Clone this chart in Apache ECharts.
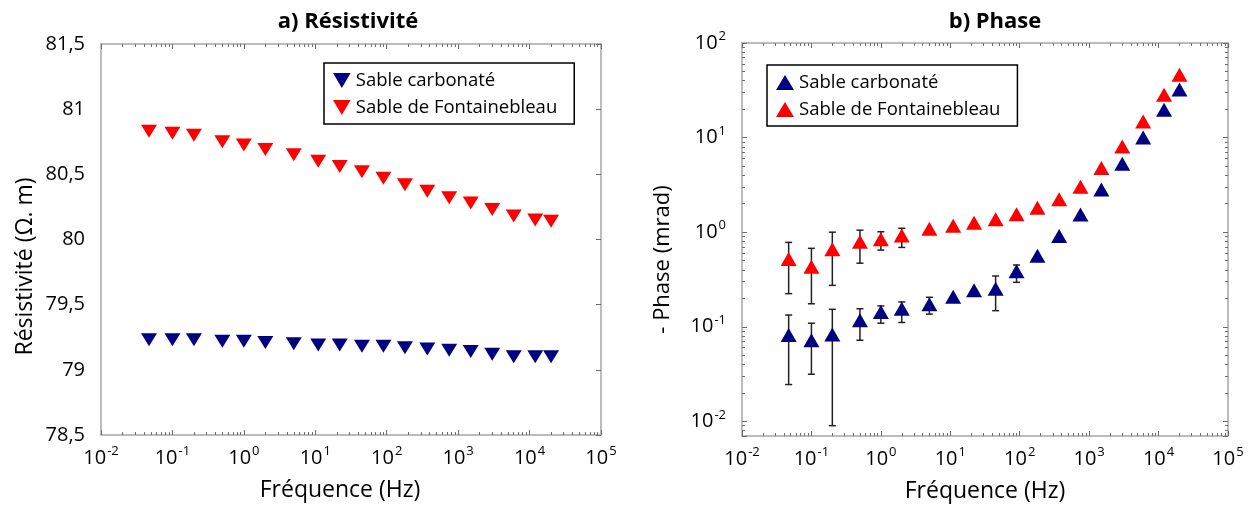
<!DOCTYPE html>
<html><head><meta charset="utf-8">
<script src="https://cdn.jsdelivr.net/npm/echarts@6/dist/echarts.min.js"></script>
<style>html,body{margin:0;padding:0;background:#fff}#c{width:1250px;height:510px}</style>
</head><body><div id="c"></div>
<script>
const FONT = '"Open Sans", Lato, sans-serif';

// Shared frequencies (Hz)
const freq = [0.047, 0.1, 0.2, 0.5, 1, 2, 5, 11, 22, 45, 90, 180, 370, 750, 1500, 3000, 6000, 12000, 20000];

// a) Résistivité (Ω.m)
const resCarbonate = [79.23, 79.23, 79.23, 79.22, 79.22, 79.21, 79.20, 79.19, 79.19, 79.18, 79.18, 79.17, 79.16, 79.15, 79.14, 79.12, 79.10, 79.10, 79.10];
const resFontainebleau = [80.83, 80.815, 80.80, 80.75, 80.725, 80.69, 80.65, 80.60, 80.56, 80.52, 80.47, 80.42, 80.37, 80.32, 80.28, 80.23, 80.18, 80.15, 80.14];

// b) - Phase (mrad)
const phaseCarbonate = [0.082, 0.072, 0.083, 0.117, 0.143, 0.155, 0.173, 0.208, 0.243, 0.252, 0.386, 0.564, 0.91, 1.54, 2.82, 5.3, 10.05, 19.7, 32.3];
const phaseFontainebleau = [0.522, 0.43, 0.66, 0.79, 0.84, 0.92, 1.09, 1.17, 1.26, 1.37, 1.55, 1.81, 2.23, 3.02, 4.77, 8.05, 14.8, 28.4, 46.1];

// Error bars (low / high), null where no bar
const errCarbonateLow  = [0.0245, 0.0315, 0.009, 0.072, 0.109, 0.111, 0.136, null, null, 0.148, 0.295, null, null, null, null, null, null, null, null];
const errCarbonateHigh = [0.133, 0.109, 0.153, 0.155, 0.166, 0.183, 0.205, null, null, 0.344, 0.45, null, null, null, null, null, null, null, null];
const errFontLow  = [0.224, 0.175, 0.274, 0.47, 0.647, 0.69, null, null, null, null, null, null, null, null, null, null, null, null, null];
const errFontHigh = [0.78, 0.675, 1.0, 1.05, 1.01, 1.10, null, null, null, null, null, null, null, null, null, null, null, null, null];

const seriesNames = ['Sable carbonaté', 'Sable de Fontainebleau'];

const BLUE = '#000080', RED = '#ff0000';
const FRAME = '#a6a6a6', TICK = '#6e6e6e';
const DOWN = 'path://M0,0L10,0L5,8.5Z';

const pairs = (xs, ys) => xs.map((x, i) => [x, ys[i]]);
const bars = (xs, lo, hi) => xs.map((x, i) => lo[i] == null ? null : [x, lo[i], hi[i]]).filter(Boolean);

function powLabel(v) {
  const e = Math.log10(v);
  const r = Math.round(e);
  if (Math.abs(e - r) > 1e-6) return '';
  return '{b|10}{s|' + r + '}';
}
const powRich = {
  b: {fontSize: 20, fontFamily: FONT, color: '#000', lineHeight: 26},
  s: {fontSize: 13, fontFamily: FONT, color: '#000', verticalAlign: 'top', lineHeight: 26, padding: [0, 0, 0, 1]}
};

function errorBarItem(params, api) {
  const x = api.value(0);
  const t = api.coord([x, api.value(2)]);
  const b = api.coord([x, api.value(1)]);
  const w = 3.5;
  const st = () => ({stroke: '#222', lineWidth: 1.5});
  return {type: 'group', children: [
    {type: 'line', shape: {x1: t[0], y1: t[1], x2: b[0], y2: b[1]}, style: st()},
    {type: 'line', shape: {x1: t[0] - w, y1: t[1], x2: t[0] + w, y2: t[1]}, style: st()},
    {type: 'line', shape: {x1: b[0] - w, y1: b[1], x2: b[0] + w, y2: b[1]}, style: st()}
  ]};
}

function logX(grid, pos, showLabel, namePad) {
  return {
    type: 'log', logBase: 10, gridIndex: grid, position: pos, min: 0.01, max: 100000,
    axisLine: {show: true, onZero: false, lineStyle: {color: FRAME, width: 1.5}},
    axisTick: {show: true, inside: true, length: 5, lineStyle: {color: TICK}},
    minorTick: {show: true, splitNumber: 9, length: 3, lineStyle: {color: TICK}},
    splitLine: {show: false},
    axisLabel: {show: showLabel, formatter: powLabel, rich: powRich, margin: 10, showMinLabel: true, showMaxLabel: true},
    name: showLabel ? 'Fréquence (Hz)' : '', nameLocation: 'middle', nameGap: 44,
    nameTextStyle: {fontSize: 23, fontFamily: FONT, color: '#000', padding: namePad || 0}
  };
}

const legendBase = {
  orient: 'vertical', padding: [7, 17, 6, 9], itemGap: 6,
  itemWidth: 18, itemHeight: 15, borderColor: '#000', borderWidth: 1.5, selectedMode: false,
  textStyle: {fontSize: 18.5, fontFamily: FONT, color: '#000', lineHeight: 21}
};

const option = {
  animation: false,
  backgroundColor: '#fff',
  title: [
    {text: 'a) Résistivité', left: 343, top: 6, textAlign: 'center',
     textStyle: {fontSize: 22, fontWeight: 'bold', fontFamily: FONT, color: '#000'}},
    {text: 'b) Phase', left: 990, top: 6, textAlign: 'center',
     textStyle: {fontSize: 22, fontWeight: 'bold', fontFamily: FONT, color: '#000'}}
  ],
  legend: [
    Object.assign({}, legendBase, {left: 324, top: 63,
      data: [{name: seriesNames[0], icon: DOWN}, {name: seriesNames[1], icon: DOWN}]}),
    Object.assign({}, legendBase, {left: 767, top: 65,
      data: [{name: seriesNames[0], icon: 'triangle'}, {name: seriesNames[1], icon: 'triangle'}]})
  ],
  grid: [
    {left: 101, top: 44, width: 500, height: 391, containLabel: false},
    {left: 742, top: 43, width: 486, height: 393, containLabel: false}
  ],
  xAxis: [logX(0, 'bottom', true, [0, 22, 0, 0]), logX(0, 'top', false), logX(1, 'bottom', true), logX(1, 'top', false)],
  yAxis: [
    {type: 'value', gridIndex: 0, position: 'left', min: 78.5, max: 81.5, interval: 0.5,
     axisLine: {show: true, onZero: false, lineStyle: {color: FRAME, width: 1.5}},
     axisTick: {show: false}, splitLine: {show: false},
     axisLabel: {fontSize: 20, fontFamily: FONT, color: '#000', margin: 16,
                 formatter: v => String(v).replace('.', ',')},
     name: 'Résistivité (Ω. m)', nameLocation: 'middle', nameGap: 64,
     nameTextStyle: {fontSize: 23, fontFamily: FONT, color: '#000', padding: [0, 54, 0, 0]}},
    {type: 'value', gridIndex: 0, position: 'right', min: 78.5, max: 81.5, interval: 0.5,
     axisLine: {show: true, onZero: false, lineStyle: {color: FRAME, width: 1.5}},
     axisTick: {show: true, inside: true, length: 5, lineStyle: {color: TICK}},
     splitLine: {show: false}, axisLabel: {show: false}},
    {type: 'log', logBase: 10, gridIndex: 1, position: 'left', min: 0.007, max: 100,
     axisLine: {show: true, onZero: false, lineStyle: {color: FRAME, width: 1.5}},
     axisTick: {show: true, inside: true, length: 5, lineStyle: {color: TICK}},
     minorTick: {show: true, splitNumber: 9, length: 3, lineStyle: {color: TICK}},
     splitLine: {show: false},
     axisLabel: {formatter: powLabel, rich: powRich, margin: 16, showMinLabel: true, showMaxLabel: true},
     name: '- Phase (mrad)', nameLocation: 'middle', nameGap: 68,
     nameTextStyle: {fontSize: 22, fontFamily: FONT, color: '#000', padding: [0, 40, 0, 0]}},
    {type: 'log', logBase: 10, gridIndex: 1, position: 'right', min: 0.007, max: 100,
     axisLine: {show: true, onZero: false, lineStyle: {color: FRAME, width: 1.5}},
     axisTick: {show: true, inside: true, length: 5, lineStyle: {color: TICK}},
     minorTick: {show: true, splitNumber: 9, length: 3, lineStyle: {color: TICK}},
     splitLine: {show: false}, axisLabel: {show: false}}
  ],
  series: [
    {name: seriesNames[0], type: 'scatter', xAxisIndex: 0, yAxisIndex: 0, symbol: DOWN, symbolSize: [16, 13],
     itemStyle: {color: BLUE, opacity: 1}, data: pairs(freq, resCarbonate), z: 3},
    {name: seriesNames[1], type: 'scatter', xAxisIndex: 0, yAxisIndex: 0, symbol: DOWN, symbolSize: [16, 13],
     itemStyle: {color: RED, opacity: 1}, data: pairs(freq, resFontainebleau), z: 3},
    {type: 'custom', xAxisIndex: 2, yAxisIndex: 2, renderItem: errorBarItem, silent: true, z: 1,
     encode: {x: 0, y: [1, 2]}, data: bars(freq, errCarbonateLow, errCarbonateHigh)},
    {type: 'custom', xAxisIndex: 2, yAxisIndex: 2, renderItem: errorBarItem, silent: true, z: 1,
     encode: {x: 0, y: [1, 2]}, data: bars(freq, errFontLow, errFontHigh)},
    {name: seriesNames[0], type: 'scatter', xAxisIndex: 2, yAxisIndex: 2, symbol: 'triangle', symbolSize: [16, 14],
     itemStyle: {color: BLUE, opacity: 1}, data: pairs(freq, phaseCarbonate), z: 3},
    {name: seriesNames[1], type: 'scatter', xAxisIndex: 2, yAxisIndex: 2, symbol: 'triangle', symbolSize: [16, 14],
     itemStyle: {color: RED, opacity: 1}, data: pairs(freq, phaseFontainebleau), z: 3}
  ]
};

const chart = echarts.init(document.getElementById('c'), null, {renderer: 'canvas'});
chart.setOption(option);
</script>
</body></html>
